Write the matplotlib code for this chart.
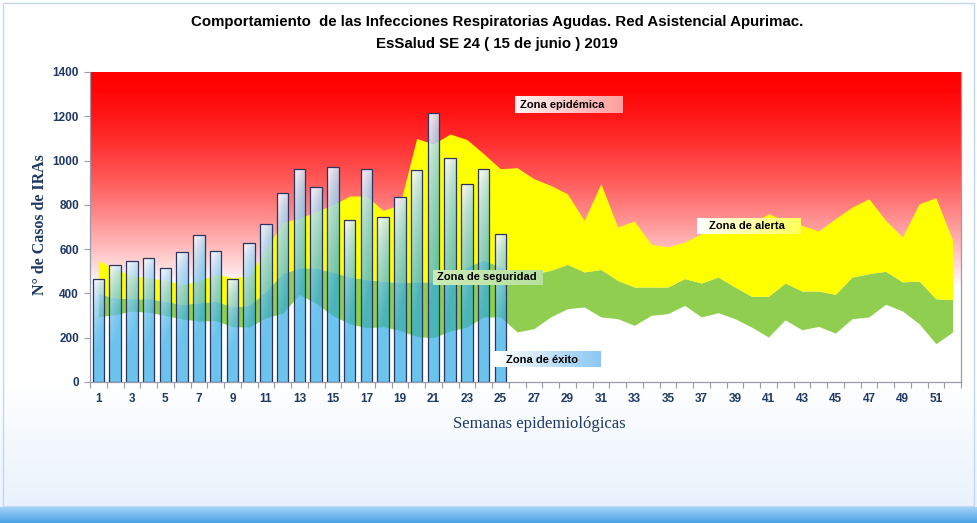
import numpy as np
import matplotlib
matplotlib.use("Agg")
import matplotlib.pyplot as plt
from matplotlib.patches import Rectangle

# ---------------- data ----------------
weeks = list(range(1, 53))
casos_weeks = list(range(1, 26))
casos = [463, 527, 545, 560, 515, 587, 662, 590, 467, 626, 714, 852, 960, 879,
         972, 732, 960, 747, 834, 957, 1215, 1010, 893, 960, 668]

# upper limit of each zone (stacked boundaries)
exito = [294, 305, 320, 315, 300, 285, 275, 278, 250, 248, 290, 310, 395, 355,
         300, 263, 245, 250, 233, 205, 200, 230, 248, 294, 294, 226, 241, 294,
         331, 339, 294, 286, 256, 301, 309, 346, 294, 313, 286, 248, 203, 281,
         236, 251, 221, 286, 294, 351, 321, 263, 173, 226]
seguridad = [399, 380, 376, 376, 365, 350, 358, 365, 340, 345, 410, 490, 515, 515,
             495, 475, 462, 455, 450, 452, 452, 474, 520, 550, 520, 474, 489, 504,
             531, 497, 508, 459, 429, 429, 429, 467, 447, 474, 429, 387, 387, 447,
             411, 411, 396, 474, 489, 500, 452, 456, 376, 372]
alerta = [549, 510, 480, 470, 460, 440, 455, 490, 470, 480, 600, 720, 740, 770,
          800, 840, 840, 775, 800, 1100, 1075, 1120, 1095, 1031, 963, 968, 918, 888,
          850, 730, 896, 700, 727, 622, 610, 632, 670, 700, 707, 715, 760, 730,
          707, 682, 738, 790, 828, 730, 655, 805, 832, 640]

yticks = [0, 200, 400, 600, 800, 1000, 1200, 1400]
xtick_labels = [str(w) for w in range(1, 52, 2)]

title1 = "Comportamiento  de las Infecciones Respiratorias Agudas. Red Asistencial Apurimac."
title2 = "EsSalud SE 24 ( 15 de junio ) 2019"
ylabel = "N° de Casos de IRAs"
xlabel = "Semanas epidemiológicas"

W, H = 977, 523
fig = plt.figure(figsize=(W / 100, H / 100), dpi=100)

# ---------------- figure background ----------------
bg = fig.add_axes([0, 0, 1, 1], zorder=-10)
bg.set_xlim(0, W); bg.set_ylim(H, 0); bg.axis('off')
rows = np.ones((H, 1, 3))
for r in range(H):
    if r < 380:
        c = np.array([1, 1, 1])
    elif r < 507:
        t = (r - 380) / 127
        c = np.array([1, 1, 1]) * (1 - t) + np.array([232, 242, 252]) / 255 * t
    else:
        t = (r - 507) / 16
        c = np.array([160, 210, 245]) / 255 * (1 - t) + np.array([70, 160, 228]) / 255 * t
    rows[r, 0] = c
bg.imshow(rows, extent=(0, W, H, 0), aspect='auto', interpolation='bilinear')
bg.add_patch(Rectangle((3, 3), W - 6, 503, fill=False, edgecolor='#C2D8EE', lw=1.0))

fig.text(497 / W, 1 - 22 / H, title1, ha='center', va='center', fontsize=10.8,
         fontweight='bold', family='Liberation Sans', color='black')
fig.text(497 / W, 1 - 44 / H, title2, ha='center', va='center', fontsize=10.8,
         fontweight='bold', family='Liberation Sans', color='black')

# ---------------- main axes ----------------
L, R, T, B = 90, 961, 72, 382
ax = fig.add_axes([L / W, 1 - B / H, (R - L) / W, (B - T) / H])
ax.set_xlim(0.5, 52.5)
ax.set_ylim(0, 1400)

# red gradient (epidemic zone)
vals = np.linspace(1400, 0, 400)
t = np.clip((1400 - vals) / (1400 - 430), 0, 1) ** 1.5
grad = np.zeros((400, 1, 3))
grad[:, 0, 0] = 1.0
grad[:, 0, 1] = t
grad[:, 0, 2] = t
ax.imshow(grad, extent=(0.5, 52.5, 0, 1400), aspect='auto', zorder=0,
          interpolation='bilinear')

x = np.array(weeks)
ax.fill_between(x, 0, exito, color='white', lw=0, zorder=1)
ax.fill_between(x, exito, seguridad, color='#8FCE4E', lw=0, zorder=1)
ax.fill_between(x, seguridad, alerta, color='#FFFF00', lw=0, zorder=1)

# bars with gradient fill
bars = ax.bar(casos_weeks, casos, width=0.70, facecolor='none',
              edgecolor='#2B3560', lw=0.9, zorder=3)
top_c = np.array([240, 244, 252]) / 255
bot_c = np.array([45, 170, 230]) / 255
ny, nx = 80, 16
hx, vy = np.meshgrid(np.linspace(0, 1, nx), np.linspace(0, 1, ny))
tt = np.clip(1.35 * vy ** 0.75 + 0.35 * hx - 0.15, 0, 1)
bimg = np.zeros((ny, nx, 4))
for k in range(3):
    bimg[:, :, k] = top_c[k] * (1 - tt) + bot_c[k] * tt
bimg[:, :, 3] = 0.92 - 0.22 * tt
for p in bars.patches:
    x0, y0 = p.get_x(), p.get_y()
    w, h = p.get_width(), p.get_height()
    im = ax.imshow(bimg, extent=(x0, x0 + w, y0, y0 + h), aspect='auto',
                   zorder=2, interpolation='bilinear')
    im.set_clip_path(p)
ax.set_xlim(0.5, 52.5)
ax.set_ylim(0, 1400)

# zone labels with gradient boxes
def grad_box(x0, x1, y0, y1, c_left, c_right):
    g = np.zeros((1, 50, 3))
    for k in range(3):
        g[0, :, k] = np.linspace(c_left[k], c_right[k], 50)
    ax.imshow(g, extent=(x0, x1, y0, y1), aspect='auto', zorder=4,
              interpolation='bilinear')

grad_box(25.9, 32.3, 1213, 1286, (1, 0.95, 0.95), (1, 0.62, 0.62))
ax.text(26.2, 1250, "Zona epidémica", fontsize=8, fontweight='bold',
        family='Liberation Sans', va='center', ha='left', zorder=5)
grad_box(36.75, 42.9, 667, 735, (1, 1, 1), (1, 1, 0.35))
ax.text(37.45, 703, "Zona de alerta", fontsize=8, fontweight='bold',
        family='Liberation Sans', va='center', ha='left', zorder=5)
grad_box(21.0, 27.55, 437, 504, (0.80, 0.92, 0.72), (0.72, 0.88, 0.62))
ax.text(21.2, 472, "Zona de seguridad", fontsize=8, fontweight='bold',
        family='Liberation Sans', va='center', ha='left', zorder=5)
grad_box(24.6, 30.96, 66, 134, (1, 1, 1), (0.55, 0.78, 0.95))
ax.text(25.35, 101, "Zona de éxito", fontsize=8, fontweight='bold',
        family='Liberation Sans', va='center', ha='left', zorder=5)

# axes styling
for s in ax.spines.values():
    s.set_color('#9A9AAE')
    s.set_linewidth(0.9)
    s.set_zorder(6)
ax.spines['top'].set_visible(False)

ax.set_yticks(yticks)
ax.set_yticklabels([str(v) for v in yticks])
ax.tick_params(axis='y', direction='out', length=4, color='#9A9AAE', pad=4,
               labelsize=8.5, labelcolor='#1F3864')
for lbl in ax.get_yticklabels():
    lbl.set_fontweight('bold'); lbl.set_family('Liberation Sans')

ax.set_xticks(np.arange(0.5, 53.0, 1.0))
ax.set_xticklabels([])
ax.tick_params(axis='x', which='major', direction='out', length=4,
               color='#9A9AAE')
ax.set_xticks(range(1, 52, 2), minor=True)
ax.set_xticklabels(xtick_labels, minor=True)
ax.tick_params(axis='x', which='minor', length=0, pad=8, labelsize=8.5,
               labelcolor='#1F3864')
for lbl in ax.get_xticklabels(minor=True):
    lbl.set_fontweight('bold'); lbl.set_family('Liberation Sans')

fig.text(40 / W, 1 - 225 / H, ylabel, rotation=90, ha='center', va='center',
         fontsize=11.5, fontweight='bold', family='Liberation Serif',
         color='#1F3864')
fig.text(539 / W, 1 - 424 / H, xlabel, ha='center', va='center',
         fontsize=12, family='Liberation Serif', color='#1F3864')

fig.savefig("out.png", dpi=100)
